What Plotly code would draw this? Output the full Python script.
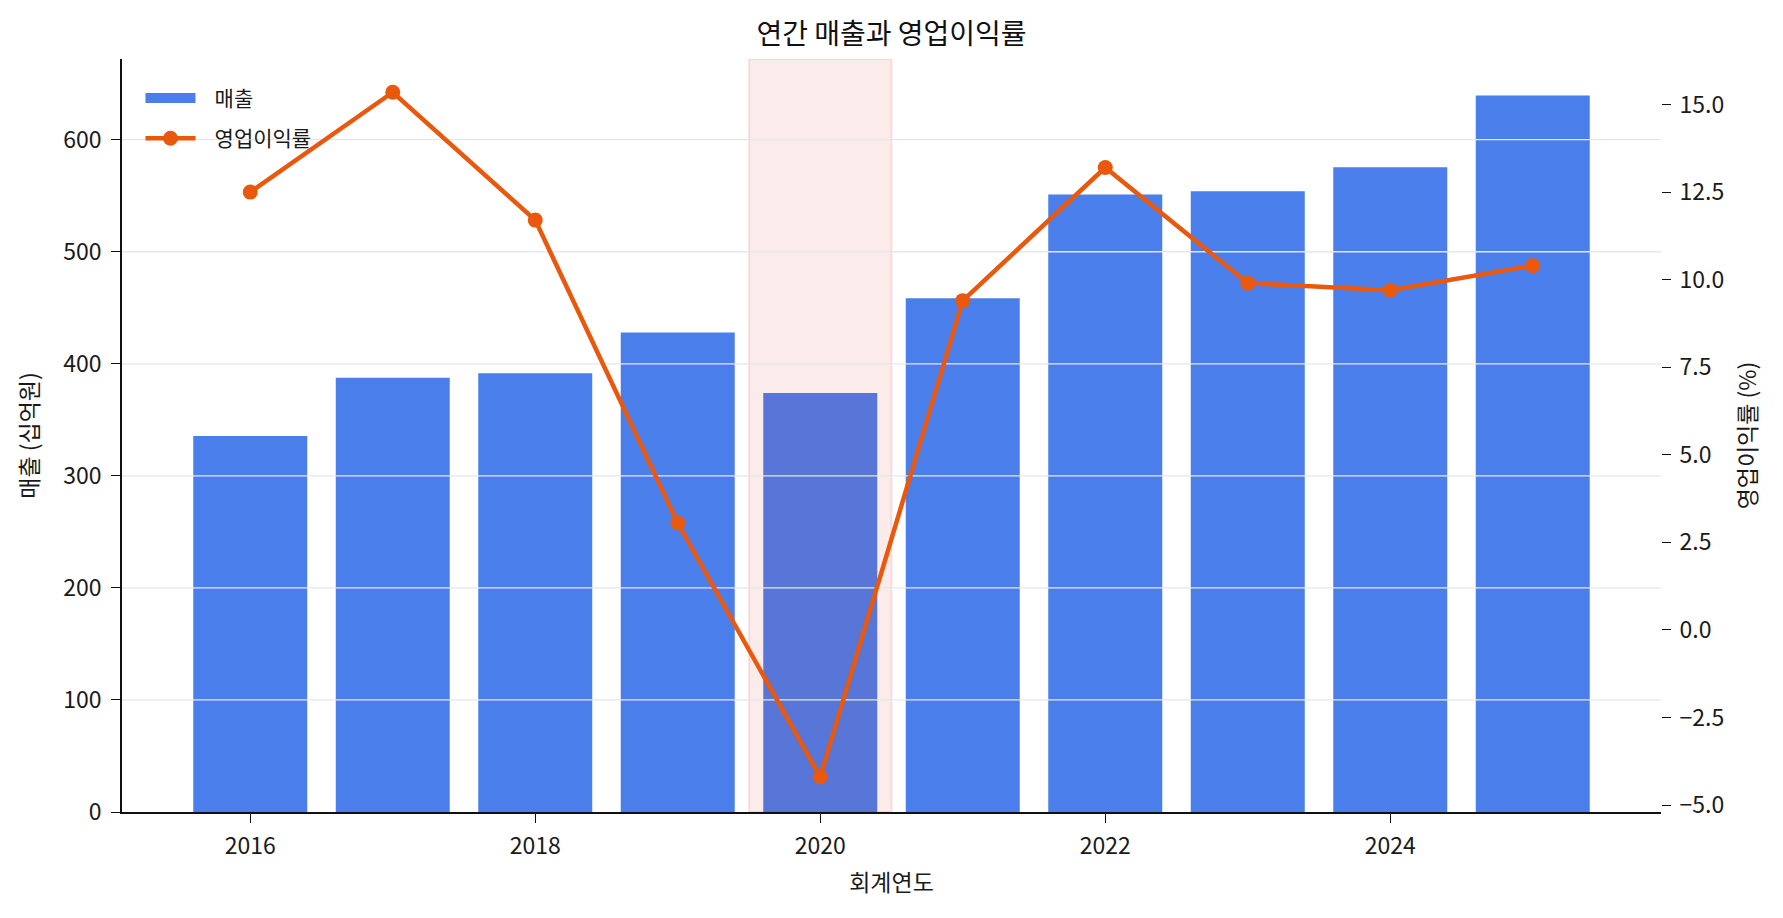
import plotly.graph_objects as go

# 회계연도별 매출(십억원)과 영업이익률(%)
years = [2016, 2017, 2018, 2019, 2020, 2021, 2022, 2023, 2024, 2025]
sales = [335.5, 387.5, 391.5, 428, 374, 458.5, 551, 554, 575.5, 639.5]
margin = [12.5, 15.35, 11.7, 3.05, -4.2, 9.4, 13.2, 9.9, 9.7, 10.4]

highlight_year = 2020
x_ticks = [2016, 2018, 2020, 2022, 2024]
y_grid = [100, 200, 300, 400, 500, 600]
y2_ticks = [-5, -2.5, 0, 2.5, 5, 7.5, 10, 12.5, 15]

X_RANGE = [2015.1, 2025.9]
Y_RANGE = [0, 672]
Y2_RANGE = [-5.2, 16.3]

BLUE = "#4A7FEB"
ORANGE = "#E9580C"
GRID = "#E5E7EB"
FONT = "Noto Sans CJK KR"
NB = "\u00a0\u00a0\u00a0"  # 범례 견본과 글자 사이 간격


def main():
    fig = go.Figure()

    fig.add_trace(go.Bar(
        x=years, y=sales, name="매출", width=0.8, showlegend=False,
        marker=dict(color=BLUE, line=dict(width=0)),
        yaxis="y", hoverinfo="x+y",
    ))

    # 2020년 강조 구간 (막대 위에 반투명하게)
    fig.add_trace(go.Bar(
        x=[highlight_year], y=[Y_RANGE[1]], width=1.0, showlegend=False,
        marker=dict(color="rgba(220,38,38,0.09)",
                    line=dict(color="rgba(220,38,38,0.12)", width=2)),
        hoverinfo="skip", yaxis="y",
    ))

    # 격자선은 막대 위, 꺾은선 아래
    gx, gy = [], []
    for v in y_grid:
        gx += [X_RANGE[0], X_RANGE[1], None]
        gy += [v, v, None]
    fig.add_trace(go.Scatter(
        x=gx, y=gy, mode="lines", line=dict(color=GRID, width=1.3),
        showlegend=False, hoverinfo="skip", yaxis="y",
    ))

    # 범례용 넓은 막대 견본
    fig.add_trace(go.Scatter(
        x=[None], y=[None], name=NB + "매출", mode="lines",
        line=dict(color=BLUE, width=16), legendgroup="sales",
        hoverinfo="skip", yaxis="y",
    ))

    fig.add_trace(go.Scatter(
        x=years, y=margin, name=NB + "영업이익률", mode="lines+markers",
        line=dict(color=ORANGE, width=4.5),
        marker=dict(color=ORANGE, size=15), legendgroup="margin",
        yaxis="y2",
    ))

    tick_font = dict(family=FONT, size=23, color="#1a1a1a")
    title_font = dict(family=FONT, size=23, color="#1a1a1a")
    fig.update_layout(
        width=1775, height=910,
        paper_bgcolor="white", plot_bgcolor="white",
        barmode="overlay",
        margin=dict(l=114, r=122, t=51, b=106),
        font=dict(family=FONT, size=21, color="#1a1a1a"),
        title=dict(text="연간 매출과 영업이익률", x=0.5, xref="paper",
                   xanchor="center", y=1 - 26.5 / 910, yref="container",
                   yanchor="middle",
                   font=dict(family=FONT, size=28, color="#111111")),
        xaxis=dict(range=X_RANGE, tickvals=x_ticks, ticks="outside", ticklen=9,
                   tickwidth=1.4, tickcolor="#111111", showline=True,
                   linecolor="#111111", linewidth=1.8, showgrid=False,
                   zeroline=False, tickfont=tick_font, ticklabelstandoff=3,
                   title=dict(text="회계연도", standoff=15, font=title_font)),
        yaxis=dict(range=Y_RANGE, tickvals=[0] + y_grid, ticks="outside",
                   ticklen=9, tickwidth=1.4, tickcolor="#111111",
                   showline=True, linecolor="#111111", linewidth=1.8,
                   showgrid=False, zeroline=False, tickfont=tick_font,
                   ticklabelstandoff=5,
                   title=dict(text="매출 (십억원)", standoff=18,
                              font=title_font)),
        yaxis2=dict(range=Y2_RANGE, overlaying="y", side="right",
                    tickvals=y2_ticks, tickformat=".1f", ticks="outside",
                    ticklen=9, tickwidth=1.4, tickcolor="#111111",
                    showline=False, showgrid=False, zeroline=False,
                    tickfont=tick_font, ticklabelstandoff=4,
                    title=dict(text="영업이익률 (%)", standoff=16,
                               font=title_font)),
        legend=dict(x=0.012, y=0.975, xanchor="left", yanchor="top",
                    bgcolor="rgba(0,0,0,0)", borderwidth=0,
                    traceorder="grouped", tracegroupgap=10, itemwidth=50,
                    font=dict(family=FONT, size=21, color="#1a1a1a")),
    )

    fig.write_html("out.html")


if __name__ == "__main__":
    main()
